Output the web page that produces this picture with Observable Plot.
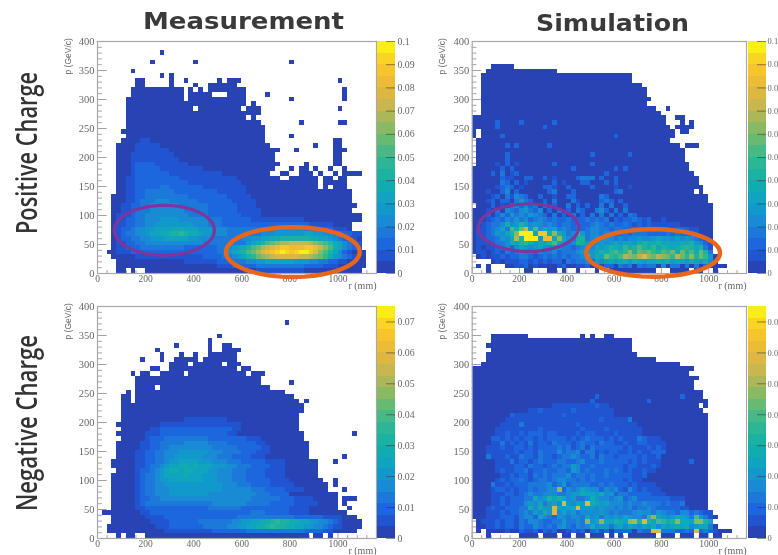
<!DOCTYPE html>
<html><head><meta charset="utf-8">
<script src="https://cdn.jsdelivr.net/npm/d3@7"></script>
<script src="https://cdn.jsdelivr.net/npm/@observablehq/plot@0.6"></script>
<style>
html,body{margin:0;padding:0;background:#fff;overflow:hidden;width:778px;height:555px}
#page{position:relative;width:778px;height:555px;overflow:hidden}
.h{position:absolute;font-family:"DejaVu Sans",sans-serif;font-weight:700;color:#3a3a3a;white-space:nowrap;filter:blur(.4px);line-height:1.15}
.v{position:absolute;font-family:"Open Sans",sans-serif;font-weight:600;color:#333;white-space:nowrap;transform-origin:0 0;filter:blur(.4px);line-height:1}
svg{position:absolute;filter:blur(.7px)}
</style></head><body><div id="page"></div>
<script>
// Each histogram: 50 rows from p=400 down to p=0, bins of 8 GeV/c by 20 mm.
// Row tokens: "a-b" = lowest colour level over columns a..b; "a:xyz" = levels (base 36) from column a.
const posMeasurement = ["","",
"13-13","",
"11-11 20-20 40-40","",
"7-7",
"13-13 15-15",
"8-9 15-15 18-18 25-25 27-29 50-50",
"8-9 15-15 20-20 23-28",
"7-13 14-17 19-19 21-21 23-30 51-51",
"7-17 19-23 27-30 35-35 51-51",
"6-17 19-30 40-40 51-51",
"6-30 32-32",
"6-19 21-29 31-33 50-50",
"6-33",
"6-30 32-32",
"6-33 42-42 50-51",
"6-34",
"5-34",
"6-34 40-40",
"5-34 49-50 9:11",
"4-35 45-45 49-50 8:11111",
"4-37 41-41 49-51 8:1111111",
"4-36 49-50 7:111111111",
"4-36 49-50 7:1111111111",
"4-37 43-43 49-50 7:122221111111",
"4-36 40-40 42-43 45-45 48-48 51-51 7:122222111111111",
"4-35 38-39 42-44 46-46 49-49 51-54 7:1222222211111111111",
"4-37 40-42 43-45 47-48 50-51 6:11222222222111111111111",
"4-45 47-51 6:112222222222211111111111",
"4-45 47-47 49-51 6:1122222332222222111111111",
"4-52 6:1122333333222222222111111",
"3-52 6:11223333333332222222211111",
"3-52 6:112333444333333222222211111",
"3-53 5:1122334444443333332222221111",
"3-52 5:11233344444443333322222211111",
"3-54 4:111233444444444333322222221111",
"3-54 4:112233444555544444433322222211 34:111111111",
"3-52 4:11223344555555554443332222 30:2222222222222211111",
"3-52 4:12234455666677666555444333 30:33333334444443332221110",
"3-53 4:1233445667788987765544433 29:33333444555555665544332211",
"3-54 4:1223344555666665544433333 29:34455667788888877665432110",
"3-54 4:112233444444444444333333333 31:5678abcddeeeedcba9764321",
"3-54 3:011222333333333222222233 27:45678abdefghhggghhgeca764321",
"2-55 3:011122222222222222222233 27:5678abdfghijihijjhfca8642100",
"3-55 8:111111 14:1111111122223 27:345689bcdefffffeedcb97543210",
"4-55 18:111111122 27:2333445566666655544332211",
"4-55 25:11122222333333333322221110",
"4-5 7-7 10-54 33:1111111111"];

const posSimulation = ["","","","","",
"4-8",
"3-17",
"2-31 32-33",
"2-33",
"2-35",
"2-36",
"2-36",
"2-37",
"2-36",
"2-38 41-41",
"2-39",
"0-40 43-44",
"0-40 44-44 46-46 5:2 10:2 17:2",
"0-41 43-46 5:2 15:2",
"0-0 2-42 44-45",
"0-0 2-42 6:2 30:2",
"1-41",
"1-42 43-43 45-47 7:2 9:2 16:2",
"1-44",
"1-44 7:2 25:2 33:2",
"1-44 7:2",
"1-45 5:1 7:2 9:1 17:2 25:2",
"0-45 6:2 8:2 21:2 30:2 32:2",
"0-46 4:2 6:3 8:1 9:2 28:2",
"0-47 6:2 7:1 8:1 11:22 15:2 17:1 22:2 23:333 27:2 30:2",
"0-47 6:3 7:2 9:2 11:1 17:2 19:1 23:22 28:2 30:2",
"0-48 5:1 6:2 7:3 8:2 10:1 15:22 17:1 20:2 25:2 30:1 33:1",
"0-46 48-48 3:1 6:2 7:4 9:2 16:2 17:3 21:2 30:2 31:3",
"0-49 4:1 5:2 7:3 8:1 9:4 10:3 11:2 14:2 17:1 20:2 21:2 27:3 28:2",
"0-49 3:12 6:2 7:2 9:3 10:5 11:3 12:2 15:2 17:3 21:3 22:1 27:2 28:3 29:2 31:2",
"1-50 4:2 6:1 8:3 9:4 10:2 11:4 12:2 13:3 15:3 17:2 20:3 22:2 24:2 27:3 29:3 32:2",
"0-50 3:1 5:3 7:4 8:3 9:2 10:4 11:5 12:3 13:2 14:4 16:2 18:3 20:2 22:3 23:2 26:3 27:4 28:2 30:3 32:3",
"0-50 3:2 5:2 6:4 7:2 8:5 9:3 10:4 11:3 12:5 13:4 14:3 15:2 17:3 19:2 21:3 23:2 25:3 27:3 29:3 31:2 33:3 34:2",
"0-50 3:1232435342343 16:2322 20:32223 25:2323 30:2122 34:3212 40:1",
"0-50 2:12334745864543 16:4323323 23:2234323 30:2232121 37:2111111",
"0-50 1:11234 6:63a7be5a46 16:56343 21:2323 25:443323 31:32232 36:22322 41:2122211",
"0-50 1:1123 5:546 8:8cjjj6hh7 17:c7534 22:a5 24:3443 28:43323 33:233322 39:223232221",
"0-50 1:1122 5:3547d8jjj5gg 17:6c64 21:378 24:345 27:4 28:54343 33:4454 37:45655 42:45454 47:321",
"0-50 1:1112 5:334 8:7689 12:7566 16:8a65 20:3 21:48 23:75 25:345 28:4565 32:6657 36:8778 40:6766 44:7685 48:421",
"0-50 1:1011 5:2342 9:465 12:456 15:4 16:4543 20:3 21:234 24:546 27:5687 31:6978 35:a879 39:6876 43:789 46:868 49:31",
"0-50 1:1101 5:2132 9:343 12:324 15:3 16:3423 20:3 21:345 24:5568 28:79a8 32:9c8b 36:ab98 40:a9b7 44:b8a7 48:b83",
"1-51 2:101 5:1212 9:233 12:212 15:3 16:2323 20:2 21:334 24:a57 27:6b9 30:8ad 33:cbd 36:fcb 39:dcb 42:9db 45:9c8 48:b95",
"4-51 5:101 8:1122 12:1 13:2 14:12 16:1 17:22 20:323 23:342 26:5456 30:5 31:6 32:7576 36:5667 40:6756 44:6576 48:574",
"1-1 3-3 7-53 9:112 13:1 18:12 22:112 26:3 28:22 31:323 35:3233 40:4 42:33 45:3 47:3 49:2",
"3-3 11-12 16-17 19-19 22-22 26-26 29-38 42-45 47-48 51-51"];

const negMeasurement = ["","","",
"39-39","","",
"25-25",
"23-23",
"16-16 23-23 26-27",
"12-12 23-23 26-29",
"13-13 17-17 20-20 23-28",
"9-9 13-13 16-20 22-28",
"15-18 20-25 27-29",
"11-12 15-18 19-28 30-31",
"7-7 9-10 13-17 19-30 32-34",
"8-33",
"8-33 40-40",
"8-11 13-35",
"6-6 8-38",
"5-6 8-40",
"5-6 8-41 43-43",
"5-42",
"5-41 42-42",
"5-41",
"5-41 18:111111111",
"4-41 13:11111111111111111",
"5-41 11:1122222222222222211",
"4-42 53-53 10:1112222222222222211",
"5-42 10:122233333333322222222111",
"4-43 9:11223333344444333322222211",
"4-43 9:112233444444444333332222211",
"4-43 8:1122334445555554443333222111",
"4-43 51-51 8:112233445555554443332222111",
"3-45 49-49 8:1122334556666555444333222221111",
"3-45 8:1123345667767666555443332222111",
"4-45 8:1223456776776665544433322221111",
"3-45 8:1233456666766655544433322221111",
"3-46 49-49 8:12334556666666555444333222221111",
"3-47 49-49 8:123344555555555555444333222211111",
"3-47 51-51 8:12334445555555555544444433322221111",
"3-49 8:12334445555555544444444443332222 1111",
"3-49 51-53 8:1223344444444444444444443333332221111",
"3-49 51-51 8:12333333333333334444444333332222211111",
"3-49 52-52 8:112222222222222333333322222222221111",
"1-51 9:11222222222222222222222333222221111",
"3-53 10:11112222222222222223333333333332222221111",
"3-54 11:11112222223333 25:333445566778 37:98877665544321",
"2-54 12:1112222222333 25:3344556677 35:89887766554 46:43211",
"2-53 14:11111111112222 28:222333333333 40:333222211",
"4-4 6-7 10-43 45-46 48-48"];

const negSimulation = ["","","","","","",
"4-11 23-23 25-25 28-29",
"4-33",
"3-33",
"4-33",
"3-34",
"3-38",
"2-43",
"0-46",
"0-45",
"0-47",
"0-46",
"0-46",
"0-48",
"0-48 44:2 26:2",
"0-49 25:2 37:2",
"0-47 49-49 17:111111111211",
"0-48 12:112111111211111111",
"0-49 8:2111111111121111111111",
"0-49 7:111111111111111111112111113",
"0-49 6:11113111111111112111111111111",
"0-49 5:1111111112111111112111121111111",
"0-49 5:1121121222122111121221111211111",
"0-49 4:221212122121222212123222121211132111",
"0-49 4:1131212131221322212322132211211221111",
"0-49 3:11121122121222232312313222222121112121",
"0-49 3:11111121221322242334133121221121211222",
"0-49 3:3111211322132212334322313221222212112",
"0-49 46:2 5:11131221232223322342223222221212111",
"0-49 5:11112213221232335422322222212211121",
"0-49 5:1211223122322332542322232321211211",
"0-49 6:1121221323233342332322322222112",
"0-49 5:1212232123323443323232222221211",
"0-49 4:31121222333342352333322323222121111",
"0-49 4:12212122323344c243465442434214212111",
"0-49 4:1112212343344433455766574523322222111",
"0-49 4:11212223364586864533475443452342222222111",
"0-49 4:112122245463564f5465f76564443433433323223",
"0-49 3:12112223374755f6567f55545443434233432222211",
"0-49 3:1112122343547 16:5f4645344 25:44543433 33:34544354 41:3324423211",
"0-49 51-51 3:1112221344 13:2643254 20:34436 25:4535 29:4546 33:5443 37:9c65 41:4576 45:53a5 49:31",
"1-50 2:1112122 9:1324 13:43223 18:35334 23:3c5 26:6c6 29:6876 33:cd8 36:f86 39:a97 42:8c7 45:76c 48:c86",
"1-51 3:11212 8:2132 12:2432 16:3245 20:3243 24:4745 28:5356 32:4654 36:6574 40:6567 44:6745 48:663",
"1-1 3-54 7:1 10:2112 15:212 20:1212 25:2312 30:2222 35:3223 38:ff3 41:3322 45:32f2 49:321",
"3-3 10-13 15-17 19-20 22-23 25-27 29-29 31-31 33-38 40-42 44-46 48-49 51-52"];

const histograms = [posMeasurement, posSimulation, negMeasurement, negSimulation];
const zMaximum = [0.1, 0.1, 0.075, 0.075];
const colourTicks = [
  [0,0.01,0.02,0.03,0.04,0.05,0.06,0.07,0.08,0.09,0.1],
  [0,0.01,0.02,0.03,0.04,0.05,0.06,0.07,0.08,0.09,0.1],
  [0,0.01,0.02,0.03,0.04,0.05,0.06,0.07],
  [0,0.01,0.02,0.03,0.04,0.05,0.06,0.07]];
// The right-hand colour bars are cut by the picture's edge in the reference: only "0.0" / "0.1" can be read.
const visibleLabel = [String, d=>d===0?"0":String(d).slice(0,3), String, d=>d===0?"0":String(d).slice(0,3)];
const rTicks = [0,200,400,600,800,1000];
const pTicks = [0,50,100,150,200,250,300,350,400];
const rMinor = d3.range(0,1160,40);
const pMinor = d3.range(0,400,10);
const ringsByPanel = [
  [{r:278,p:74.5,rx:208,ry:43,c:"#7d369c",w:3.2},{r:812,p:37,rx:278,ry:43,c:"#e8661a",w:4.4}],
  [{r:238,p:79,rx:212,ry:41,c:"#7d369c",w:3.2},{r:765,p:35.5,rx:283,ry:41,c:"#e8661a",w:4.4}],
  [],[]];
const stops = [0,0.1,0.2,0.3,0.4,0.5,0.6,0.7,0.8,0.9,1];
const stopColours = ["#2a3aa5","#1c5ce0","#1c82d8","#0fa0c8","#12b0a8","#35b890","#78bb68","#bdb555","#e8b83c","#fbc828","#f8fa0e"];
const frames = [{l:60,t:30,fx:97,cx:377},{l:430,t:30,fx:471.7,cx:748},{l:60,t:295,fx:97,cx:377},{l:430,t:295,fx:471.7,cx:748}];
const frameW = [279,274.3,279,274.3];

function decode(rows, zmax){
  const step = zmax/20, cells = [];
  rows.forEach((row,k)=>{
    const line = new Map();
    row.trim().split(/\s+/).filter(Boolean).forEach(tok=>{
      if(tok.includes("-")){const [a,b]=tok.split("-").map(Number);for(let c=a;c<=b;c++)line.set(c,0);}
      else if(tok.includes(":")){const [a,s]=tok.split(":");[...s].forEach((ch,i)=>line.set(+a+i,parseInt(ch,36)));}
      else{[...tok].forEach((ch,i)=>{});}
    });
    line.forEach((lev,c)=>cells.push({r1:c*20,r2:(c+1)*20,p1:400-(k+1)*8,p2:400-k*8,z:(Math.min(lev,19)+.5)*step}));
  });
  return cells;
}
const page = document.getElementById("page");
const serif = '"Liberation Serif",serif';
histograms.forEach((rows,i)=>{
  const f = frames[i], zmax = zMaximum[i];
  const colour = {type:"linear",domain:stops.map(s=>s*zmax),range:stopColours,clamp:true};
  const ringPts = ringsByPanel[i].map(e=>d3.range(0,361,5).map(a=>({r:e.r+e.rx*Math.cos(a*Math.PI/180),p:e.p+e.ry*Math.sin(a*Math.PI/180)})));
  const ml = f.fx-f.l;
  const plot = Plot.plot({
    width: Math.round(ml+frameW[i]+2), height: 260, marginLeft: ml, marginRight: 2, marginTop: 11, marginBottom: 17,
    style:{background:"transparent",overflow:"visible"},
    x:{domain:[0,1160]}, y:{domain:[0,400]}, color:colour,
    marks:[
      Plot.ruleX(rMinor,{y1:0,y2:d=>d%200===0?11:5,stroke:"#8a8a8a",strokeWidth:.8}),
      Plot.ruleY(pMinor,{x1:0,x2:d=>d%50===0?40:20,stroke:"#8a8a8a",strokeWidth:.8}),
      Plot.rect(decode(rows,zmax),{x1:"r1",x2:"r2",y1:"p1",y2:"p2",fill:"z",shapeRendering:"crispEdges"}),
      Plot.frame({stroke:"#a8a8a8",strokeWidth:1.2}),
      Plot.axisX({ticks:rTicks,tickSize:0,tickPadding:2,label:null,tickFormat:String,fontFamily:serif,fontSize:9.5,color:"#666"}),
      Plot.axisY({ticks:pTicks,tickSize:0,tickPadding:3,label:null,tickFormat:String,fontFamily:serif,fontSize:10.5,color:"#666"}),
      Plot.text(["r (mm)"],{frameAnchor:"bottom-right",dy:15,fontFamily:serif,fontSize:10,fill:"#666",textAnchor:"end"}),
      Plot.text(["p (GeV/c)"],{frameAnchor:"top-left",dx:-33,dy:33,rotate:-90,fontFamily:'"Liberation Sans",sans-serif',fontSize:8.5,fill:"#666"}),
      ...ringPts.map((pts,j)=>Plot.line(pts,{x:"r",y:"p",stroke:ringsByPanel[i][j].c,strokeWidth:ringsByPanel[i][j].w})),
    ]
  });
  plot.style.left = f.l+"px"; plot.style.top = f.t+"px";
  page.appendChild(plot);
  const bands = d3.range(20).map(b=>({a:b*zmax/20,b:(b+1)*zmax/20,z:(b+.5)*zmax/20}));
  const clipped = i%2===1;
  const bar = Plot.plot({
    width: clipped ? 30 : 60, height: 260, marginLeft: 0, marginRight: clipped ? 12 : 42, marginTop: 11, marginBottom: 17,
    style:{background:"transparent",overflow:"visible"},
    x:{domain:[0,1],axis:null}, y:{domain:[0,zmax]}, color:colour,
    marks:[
      Plot.rect(bands,{x1:0,x2:1,y1:"a",y2:"b",fill:"z",shapeRendering:"crispEdges"}),
      Plot.ruleY(colourTicks[i],{x1:.5,x2:1,stroke:"#333",strokeOpacity:.55}),
      Plot.axisY({anchor:"right",ticks:colourTicks[i],tickSize:0,tickPadding:clipped?1:2,label:null,tickFormat:visibleLabel[i],fontFamily:serif,fontSize:clipped?8.5:9.8,color:"#666"}),
    ]
  });
  bar.style.left = f.cx+"px"; bar.style.top = f.t+"px";
  page.appendChild(bar);
});
[["Measurement",143,8,201],["Simulation",536,10,153]].forEach(([t,x,y,w])=>{
  const d=document.createElement("div");d.className="h";d.textContent=t;d.style.left=x+"px";d.style.top=y+"px";d.style.fontSize="23px";
  d.style.transformOrigin="0 0";page.appendChild(d);
  d.style.transform=`scaleX(${w/d.getBoundingClientRect().width})`;
});
[["Positive Charge",11,234,162],["Negative Charge",11,511,176]].forEach(([t,x,y,w])=>{
  const d=document.createElement("div");d.className="v";d.textContent=t;d.style.left=x+"px";d.style.top=y+"px";d.style.fontSize="29px";
  page.appendChild(d);
  const full=d.getBoundingClientRect().width;
  d.style.transform=`rotate(-90deg) scaleX(${w/full})`;
});
</script></body></html>
